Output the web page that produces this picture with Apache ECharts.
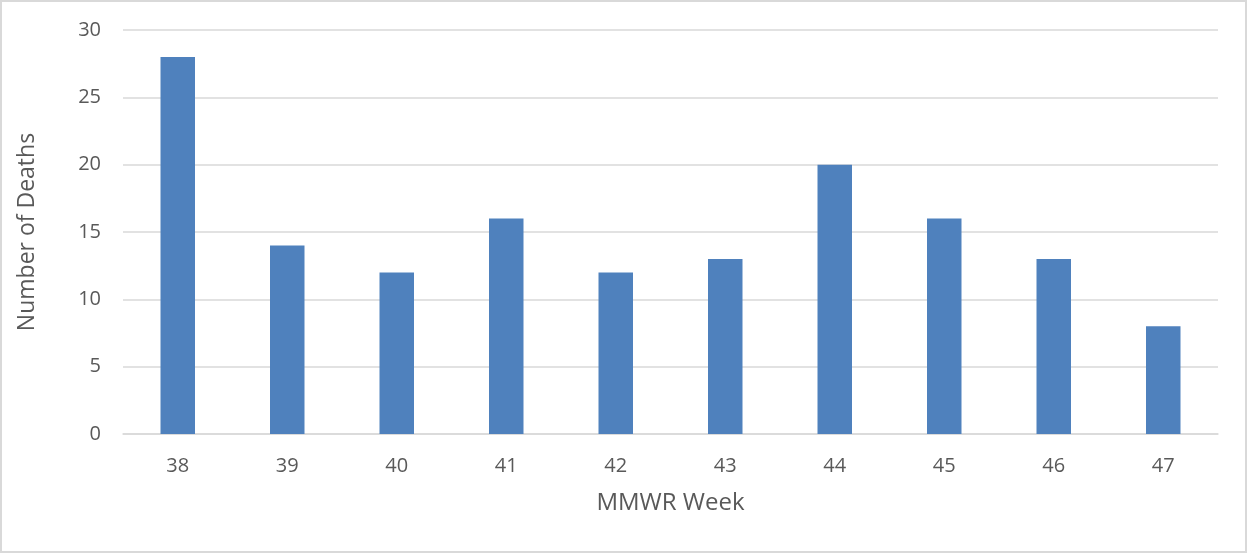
<!DOCTYPE html>
<html>
<head>
<meta charset="utf-8">
<script src="https://cdn.jsdelivr.net/npm/echarts@6/dist/echarts.min.js"></script>
<style>
html,body{margin:0;padding:0;background:#fff;}
#c{width:1247px;height:553px;box-sizing:border-box;border:2px solid #D9D9D9;}
</style>
</head>
<body>
<div id="c"></div>
<script>
const weeks = ['38','39','40','41','42','43','44','45','46','47'];
const deaths = [28,14,12,16,12,13,20,16,13,8];
const chart = echarts.init(document.getElementById('c'));
const font = '"Open Sans", "Liberation Sans", sans-serif';
chart.setOption({
  animation:false,
  grid:{left:121,right:27,top:28,bottom:117,containLabel:false},
  xAxis:{
    type:'category', data:weeks,
    name:'MMWR Week', nameLocation:'middle', nameGap:57,
    nameTextStyle:{color:'#595959',fontSize:24,fontFamily:font},
    axisLine:{lineStyle:{color:'#D9D9D9',width:1.5}},
    axisTick:{show:false},
    axisLabel:{color:'#595959',fontSize:20,fontFamily:font,margin:22}
  },
  yAxis:{
    type:'value', min:0, max:30, interval:5,
    name:'Number of Deaths', nameLocation:'middle', nameGap:84,
    nameTextStyle:{color:'#595959',fontSize:23,fontFamily:font},
    axisLine:{show:false}, axisTick:{show:false},
    splitLine:{lineStyle:{color:'#D9D9D9',width:1.5}},
    axisLabel:{color:'#595959',fontSize:20,fontFamily:font,margin:22}
  },
  series:[{type:'bar',data:deaths,barWidth:'31.5%',itemStyle:{color:'#4F81BD'}}]
});
</script>
</body>
</html>
